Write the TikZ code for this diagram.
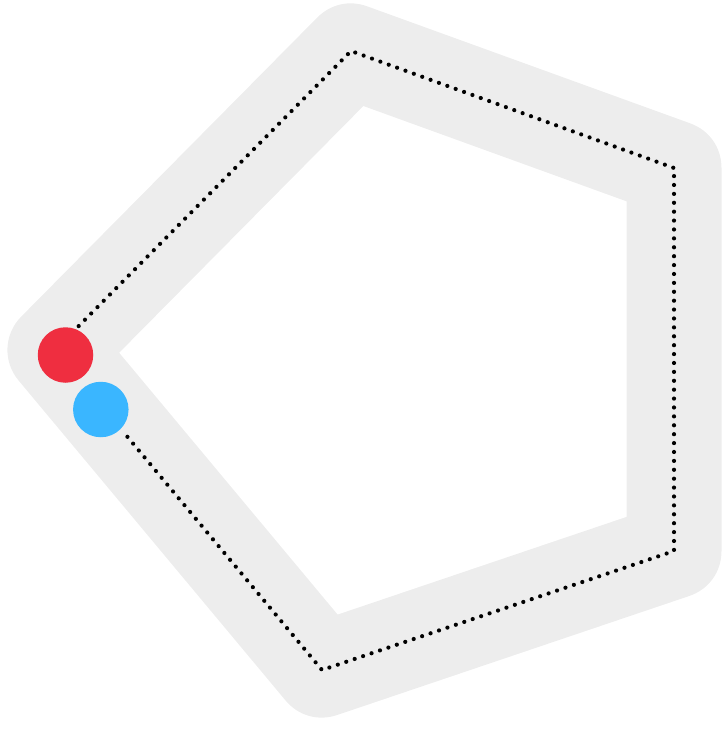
\documentclass[tikz,border=0pt]{standalone}
\usetikzlibrary{calc}
\definecolor{trackgray}{HTML}{EDEDED}
\definecolor{carred}{HTML}{EF2E40}
\definecolor{carblue}{HTML}{3AB6FF}
\tikzset{
  track/.style={draw=trackgray, line width=95pt, line join=round},
  racingline/.style={draw=black, line width=4.2pt, line cap=round, dash pattern=on 0pt off 8.9pt},
  car/.style={circle, inner sep=0pt, minimum size=55.5pt}
}
\begin{document}
\begin{tikzpicture}[x=1pt,y=-1pt]
\useasboundingbox (0,0) rectangle (722,730);
\coordinate (c1) at (55,350);
\coordinate (c2) at (351,51);
\coordinate (c3) at (674,168);
\coordinate (c4) at (674,551);
\coordinate (c5) at (322,670);
\draw[track] (c1) -- (c2) -- (c3) -- (c4) -- (c5) -- cycle;
\coordinate (s) at ($(c1)!0.08!(c2)$);
\coordinate (e) at ($(c1)!0.27!(c5)$);
\draw[racingline] (s) -- (c2) -- (c3) -- (c4) -- (c5) -- (e);
\node[car, fill=carred] (red) at (65.5,355) {};
\node[car, fill=carblue] (blue) at (100.8,409.5) {};
\end{tikzpicture}
\end{document}
